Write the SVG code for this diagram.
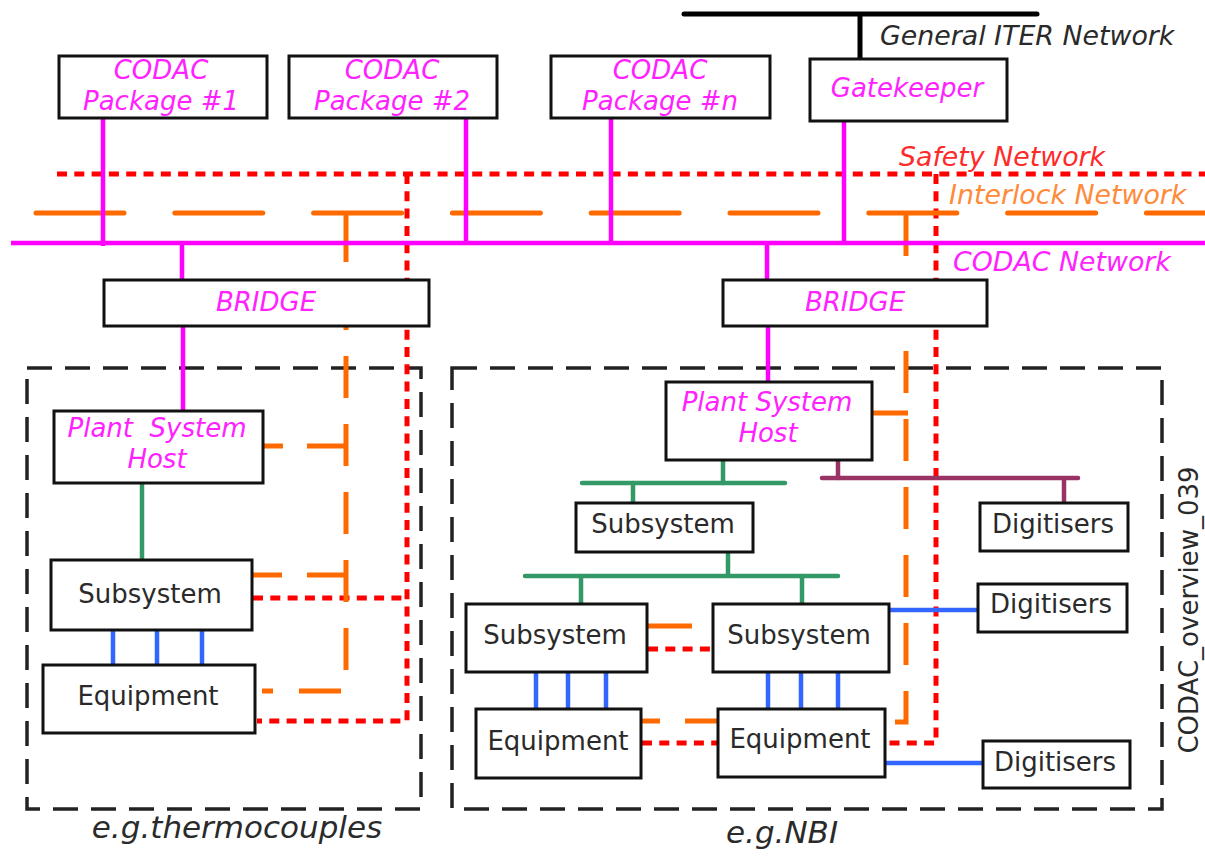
<svg xmlns="http://www.w3.org/2000/svg" width="1205" height="861" viewBox="0 0 1205 861">
<style>
text{font-family:"DejaVu Sans","Liberation Sans",sans-serif;font-size:26px}
.m{fill:#ff22ff;font-style:italic}
.k{fill:#2a2a2a}
.c{text-anchor:middle}
.net{font-style:italic;font-size:26.8px}
.cap{font-style:italic;font-size:31px}
.box{fill:#fff;stroke:#111;stroke-width:3}
.grp{fill:none;stroke:#222;stroke-width:3.5;stroke-dasharray:25 13}
.mag{stroke:#ff00ff;stroke-width:4.5;fill:none}
.blk{stroke:#000;stroke-width:5;fill:none;stroke-linecap:round}
.red{stroke:#ff0000;stroke-width:5;fill:none;stroke-dasharray:10 7.3}
.org{stroke:#ff6a00;stroke-width:5;fill:none}
.orgd{stroke:#ff6a00;stroke-width:5;fill:none;stroke-dasharray:42 26}
.orgn{stroke:#ff6a00;stroke-width:5;fill:none;stroke-dasharray:88 50.8;stroke-linecap:round}
.grn{stroke:#339966;stroke-width:4.5;fill:none;stroke-linecap:round}
.blu{stroke:#3366ff;stroke-width:4.5;fill:none}
.pur{stroke:#993366;stroke-width:4.5;fill:none;stroke-linecap:round}
</style>

<g id="groups">
<rect class="grp" x="27" y="368" width="394" height="441"/>
<rect class="grp" x="452" y="368" width="710" height="441"/>
</g>

<g id="connectors">
<!-- General ITER network -->
<line class="blk" x1="684" y1="14" x2="1037" y2="14"/>
<line class="blk" x1="860" y1="14" x2="860" y2="60" style="stroke-linecap:butt"/>
<!-- Safety network -->
<line class="red" x1="57" y1="174" x2="1205" y2="174"/>
<path class="red" d="M407,174 V721 H257"/>
<line class="red" x1="253" y1="598" x2="405" y2="598"/>
<path class="red" d="M936,174 V743 H886"/>
<line class="red" x1="648" y1="649" x2="713" y2="649"/>
<line class="red" x1="642" y1="743" x2="718" y2="743"/>
<!-- Interlock network -->
<line class="orgn" x1="36" y1="213" x2="1205" y2="213"/>
<line class="org" x1="346" y1="213" x2="346" y2="262"/>
<path class="orgd" d="M346,288 V691 H262"/>
<line class="org" x1="307" y1="446" x2="346" y2="446"/>
<line class="org" x1="263" y1="446" x2="283" y2="446"/>
<line class="org" x1="307" y1="575" x2="346" y2="575"/>
<line class="org" x1="253" y1="575" x2="282" y2="575"/>
<line class="org" x1="906" y1="213" x2="906" y2="256"/>
<path class="orgd" d="M906,283 V722 H893"/>
<line class="org" x1="872" y1="413" x2="908" y2="413"/>
<line class="org" x1="647" y1="626" x2="692" y2="626"/>
<line class="org" x1="642" y1="721" x2="660" y2="721"/>
<line class="org" x1="685" y1="721" x2="718" y2="721"/>
<!-- CODAC network -->
<line class="mag" x1="11" y1="243" x2="1205" y2="243"/>
<line class="mag" x1="103" y1="118" x2="103" y2="246"/>
<line class="mag" x1="466" y1="118" x2="466" y2="243"/>
<line class="mag" x1="611" y1="118" x2="611" y2="243"/>
<line class="mag" x1="844" y1="121" x2="844" y2="243"/>
<line class="mag" x1="182" y1="243" x2="182" y2="280"/>
<line class="mag" x1="183" y1="326" x2="183" y2="412"/>
<line class="mag" x1="767" y1="243" x2="767" y2="280"/>
<line class="mag" x1="768" y1="326" x2="768" y2="383"/>
<!-- plant system links -->
<line class="grn" x1="142" y1="483" x2="142" y2="560" style="stroke-linecap:butt"/>
<line class="grn" x1="582" y1="483" x2="785" y2="483"/>
<line class="grn" x1="723" y1="460" x2="723" y2="483"/>
<line class="grn" x1="633" y1="483" x2="633" y2="503"/>
<line class="grn" x1="525" y1="576" x2="838" y2="576"/>
<line class="grn" x1="728" y1="552" x2="728" y2="576"/>
<line class="grn" x1="581" y1="576" x2="581" y2="604"/>
<line class="grn" x1="802" y1="576" x2="802" y2="604"/>
<line class="pur" x1="822" y1="478" x2="1078" y2="478"/>
<line class="pur" x1="838" y1="460" x2="838" y2="478"/>
<line class="pur" x1="1064" y1="478" x2="1064" y2="503" style="stroke-linecap:butt"/>
<!-- equipment links -->
<line class="blu" x1="113" y1="630" x2="113" y2="665"/>
<line class="blu" x1="157" y1="630" x2="157" y2="665"/>
<line class="blu" x1="202" y1="630" x2="202" y2="665"/>
<line class="blu" x1="536" y1="672" x2="536" y2="709"/>
<line class="blu" x1="568" y1="672" x2="568" y2="709"/>
<line class="blu" x1="606" y1="672" x2="606" y2="709"/>
<line class="blu" x1="768" y1="672" x2="768" y2="709"/>
<line class="blu" x1="801" y1="672" x2="801" y2="709"/>
<line class="blu" x1="838" y1="672" x2="838" y2="709"/>
<line class="blu" x1="889" y1="610" x2="978" y2="610"/>
<line class="blu" x1="885" y1="763" x2="983" y2="763"/>
</g>

<g id="network-labels">
<text class="k net" x="880" y="45">General ITER Network</text>
<text class="net" x="899" y="166" style="fill:#ff2a2a">Safety Network</text>
<text class="net" x="949" y="204" style="fill:#ff8a3a">Interlock Network</text>
<text class="m net" x="953" y="271">CODAC Network</text>
</g>

<g id="pkg1"><rect class="box" x="59" y="56" width="208" height="62"/>
<text class="m c" x="161" y="79">CODAC</text><text class="m c" x="161" y="110">Package #1</text></g>
<g id="pkg2"><rect class="box" x="289" y="56" width="208" height="62"/>
<text class="m c" x="392" y="79">CODAC</text><text class="m c" x="392" y="110">Package #2</text></g>
<g id="pkgn"><rect class="box" x="551" y="56" width="219" height="62"/>
<text class="m c" x="660" y="79">CODAC</text><text class="m c" x="660" y="110">Package #n</text></g>
<g id="gatekeeper"><rect class="box" x="810" y="59" width="197" height="62"/>
<text class="m c" x="907" y="97">Gatekeeper</text></g>
<g id="bridge1"><rect class="box" x="104" y="280" width="325" height="46"/>
<text class="m c" x="266" y="311">BRIDGE</text></g>
<g id="bridge2"><rect class="box" x="723" y="280" width="264" height="46"/>
<text class="m c" x="855" y="311">BRIDGE</text></g>

<g id="psh1"><rect class="box" x="54" y="411" width="209" height="72"/>
<text class="m c" x="157" y="437" xml:space="preserve">Plant  System</text><text class="m c" x="157" y="468">Host</text></g>
<g id="sub1"><rect class="box" x="51" y="560" width="201" height="70"/>
<text class="k c" x="150" y="603">Subsystem</text></g>
<g id="equip1"><rect class="box" x="43" y="665" width="212" height="68"/>
<text class="k c" x="148" y="705">Equipment</text></g>

<g id="psh2"><rect class="box" x="666" y="382" width="206" height="78"/>
<text class="m c" x="767" y="411">Plant System</text><text class="m c" x="768" y="442">Host</text></g>
<g id="sub2"><rect class="box" x="576" y="503" width="177" height="49"/>
<text class="k c" x="663" y="533">Subsystem</text></g>
<g id="sub3"><rect class="box" x="466" y="604" width="181" height="68"/>
<text class="k c" x="555" y="644">Subsystem</text></g>
<g id="sub4"><rect class="box" x="713" y="604" width="176" height="68"/>
<text class="k c" x="799" y="644">Subsystem</text></g>
<g id="equip2"><rect class="box" x="476" y="709" width="165" height="69"/>
<text class="k c" x="558" y="750">Equipment</text></g>
<g id="equip3"><rect class="box" x="718" y="709" width="167" height="68"/>
<text class="k c" x="800" y="748">Equipment</text></g>
<g id="dig1"><rect class="box" x="980" y="503" width="148" height="48"/>
<text class="k c" x="1053" y="533">Digitisers</text></g>
<g id="dig2"><rect class="box" x="978" y="584" width="149" height="48"/>
<text class="k c" x="1051" y="613">Digitisers</text></g>
<g id="dig3"><rect class="box" x="983" y="741" width="147" height="47"/>
<text class="k c" x="1055" y="771">Digitisers</text></g>

<g id="captions">
<text class="k c cap" x="237" y="838">e.g.thermocouples</text>
<text class="k c cap" x="782" y="843">e.g.NBI</text>
<text class="k c" transform="translate(1198,610) rotate(-90)">CODAC_overview_039</text>
</g>
</svg>
